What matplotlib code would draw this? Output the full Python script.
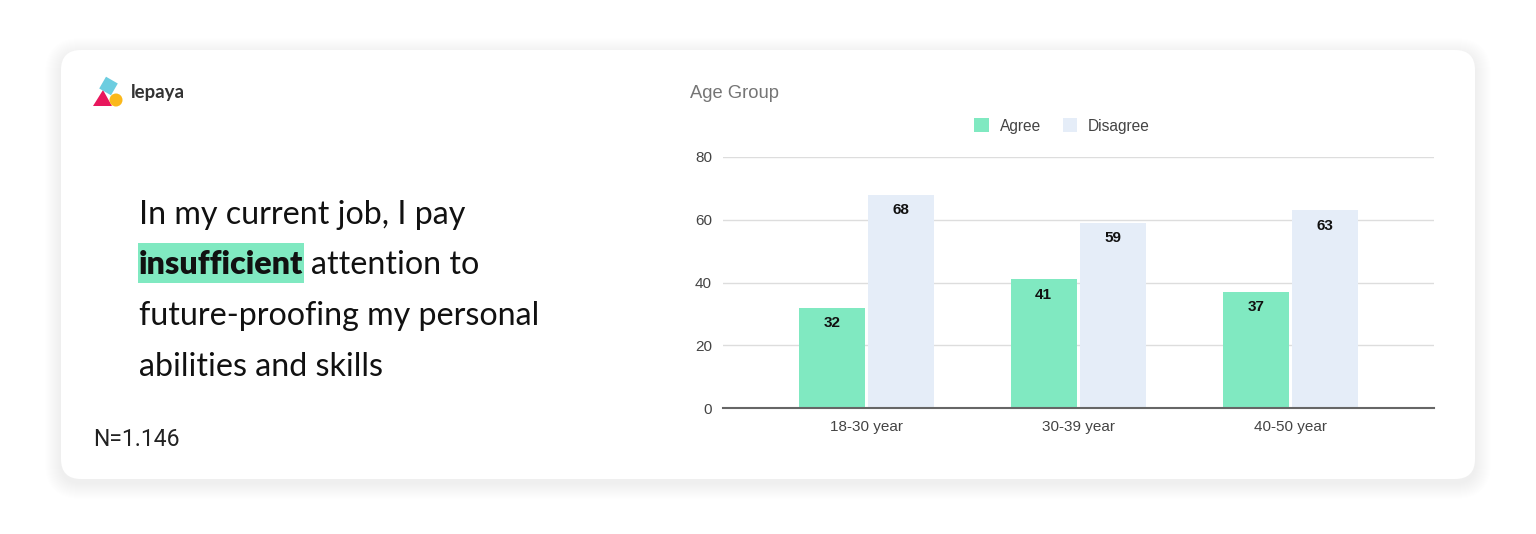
import numpy as np
import matplotlib
matplotlib.use("Agg")
import matplotlib.pyplot as plt
from matplotlib.patches import FancyBboxPatch, Rectangle, Polygon, Circle

# chart data
groups = ["18-30 year", "30-39 year", "40-50 year"]
agree = [32, 41, 37]
disagree = [68, 59, 63]
y_ticks = [0, 20, 40, 60, 80]

question_lines = ["In my current job, I pay", "attention to",
                  "future-proofing my personal", "abilities and skills"]
highlight_word = "insufficient"
sample_note = "N=1.146"

GREEN = "#80e9c1"
BLUE = "#e5edf8"

W, H = 1536, 534
fig = plt.figure(figsize=(W / 100, H / 100), dpi=100)
fig.patch.set_facecolor("white")

# background axes in pixel coords (y down)
bg = fig.add_axes([0, 0, 1, 1])
bg.set_xlim(0, W)
bg.set_ylim(H, 0)
bg.axis("off")

# card shadow + card
for i in range(16, 0, -1):
    bg.add_patch(FancyBboxPatch((61 - i, 50 - i + 4), 1414 + 2 * i, 429 + 2 * i,
                                boxstyle="round,pad=0,rounding_size=%d" % (20 + i),
                                facecolor="black", edgecolor="none", alpha=0.005))
bg.add_patch(FancyBboxPatch((61, 50), 1414, 429, boxstyle="round,pad=0,rounding_size=20",
                            facecolor="white", edgecolor="none"))

# logo
bg.add_patch(Polygon([[93, 106], [112, 106], [103, 90]], closed=True, facecolor="#e8175d", edgecolor="none"))
ang = np.deg2rad(30)
cx, cy, s = 108.5, 86, 6.8
sq = [[cx + s * (np.cos(ang + k * np.pi / 2) - np.sin(ang + k * np.pi / 2)),
       cy + s * (np.sin(ang + k * np.pi / 2) + np.cos(ang + k * np.pi / 2))] for k in range(4)]
bg.add_patch(Polygon(sq, closed=True, facecolor="#6ccde0", edgecolor="none"))
bg.add_patch(Circle((116, 100), 6.5, facecolor="#fbb81a", edgecolor="none"))
bg.text(131, 98, "lepaya", fontsize=13.4, family="Lato", weight="bold", color="#333333", va="baseline")

# question text
fs_q = 23.2
bg.text(139, 224, question_lines[0], fontsize=fs_q, family="Lato", color="#111111", va="baseline")
hw = bg.text(139, 274.5, highlight_word, fontsize=fs_q, family="Lato", weight="heavy",
             color="#111111", va="baseline", zorder=3)
fig.canvas.draw()
bb = hw.get_window_extent(renderer=fig.canvas.get_renderer())
x_end = bb.x1
bg.add_patch(Rectangle((138, 243), x_end - 138 + 1, 40, facecolor=GREEN, edgecolor="none", zorder=2))
bg.text(x_end + 8, 274.5, question_lines[1], fontsize=fs_q, family="Lato", color="#111111", va="baseline")
bg.text(139, 325, question_lines[2], fontsize=fs_q, family="Lato", color="#111111", va="baseline")
bg.text(139, 375.5, question_lines[3], fontsize=fs_q, family="Lato", color="#111111", va="baseline")

bg.text(93, 446.5, sample_note, fontsize=16.5, family="Roboto", color="#222222", va="baseline")

# chart
ax = fig.add_axes([723 / W, 126 / H, 711 / W, 251 / H])
ax.set_facecolor("none")
x = np.arange(len(groups))
bw = 0.311
b1 = ax.bar(x - 0.162, agree, bw, color=GREEN, zorder=2, label="Agree")
b2 = ax.bar(x + 0.165, disagree, bw, color=BLUE, zorder=2, label="Disagree")
for bars in (b1, b2):
    for rect in bars:
        ax.annotate("%d" % rect.get_height(), (rect.get_x() + rect.get_width() / 2, rect.get_height()),
                    xytext=(0, -11), textcoords="offset points", ha="center", va="center",
                    fontsize=11, weight="bold", family="Liberation Sans", color="#111111")

ax.set_xlim(-0.675, 2.679)
ax.set_ylim(0, 80)
ax.set_yticks(y_ticks)
ax.set_xticks(x)
ax.set_xticklabels(groups)
ax.grid(axis="y", color="#dddddd", lw=1, zorder=0)
for sp in ("top", "right", "left"):
    ax.spines[sp].set_visible(False)
ax.spines["bottom"].set_color("#666666")
ax.spines["bottom"].set_linewidth(1.5)
ax.spines["bottom"].set_zorder(3)
ax.tick_params(axis="both", length=0, labelsize=11, labelcolor="#444444")
ax.tick_params(axis="y", pad=8)
ax.tick_params(axis="x", pad=9)
for lab in ax.get_xticklabels() + ax.get_yticklabels():
    lab.set_family("Liberation Sans")

fig.text(690 / W, 1 - 94 / H, "Age Group", fontsize=13.2, family="Liberation Sans",
         color="#757575", va="center")

leg = ax.legend(loc="center", bbox_to_anchor=(1062 / W, 1 - 126 / H), bbox_transform=fig.transFigure,
                ncol=2, frameon=False, handlelength=0.95, handleheight=0.95, handletextpad=0.7,
                columnspacing=1.4, prop={"family": "Liberation Sans", "size": 11.2})
for t in leg.get_texts():
    t.set_color("#444444")

fig.savefig("out.png", dpi=100, facecolor="white")
